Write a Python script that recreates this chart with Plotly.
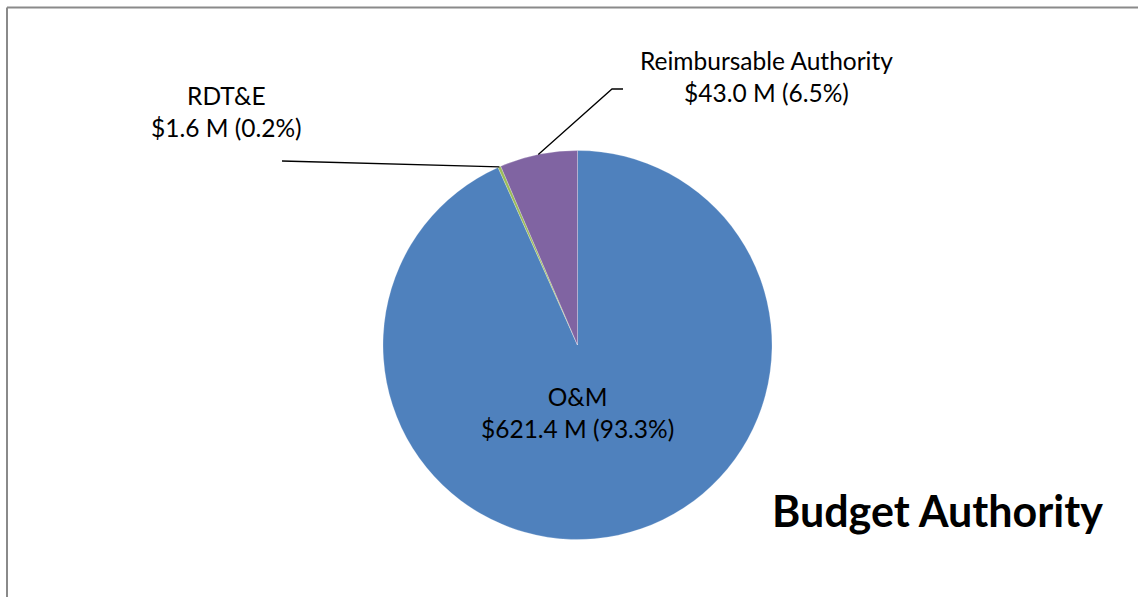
import math
import plotly.graph_objects as go

# ---- data ----
categories = ["O&M", "RDT&E", "Reimbursable Authority"]
values = [621.4, 1.6, 43.0]
colors = ["#4F81BD", "#9BBB59", "#8064A2"]
title_text = "Budget Authority"

# ---- geometry (pixels) ----
W, H = 1138, 597
CX, CY, R = 577.5, 345.0, 194.5


def px(x):
    return x / W


def py(y):
    return 1 - y / H


total = sum(values)
pcts = [v / total * 100 for v in values]
labels_txt = [f"{c}<br>${v:.1f} M ({p:.1f}%)" for c, v, p in zip(categories, values, pcts)]

# mid angles (clockwise from 12 o'clock)
mids = []
cum = 0.0
for v in values:
    frac = v / total
    mids.append((cum + frac / 2) * 2 * math.pi)
    cum += frac


def edge_point(theta, r=R):
    return CX + r * math.sin(theta), CY - r * math.cos(theta)


fig = go.Figure()
fig.add_trace(go.Pie(
    labels=categories,
    values=values,
    sort=False,
    direction="clockwise",
    rotation=0,
    textinfo="none",
    hoverinfo="label+value+percent",
    marker=dict(colors=colors, line=dict(color="rgba(255,255,255,0.45)", width=0.5)),
    domain=dict(x=[px(CX - R), px(CX + R)], y=[py(CY + R), py(CY - R)]),
    showlegend=False,
))

font_family = "Lato, 'Open Sans', sans-serif"
lab_font = dict(family=font_family, size=24.5, color="#000000")

annotations = [
    dict(x=px(CX), y=py(CY + 0.345 * R), text=labels_txt[0], showarrow=False,
         xref="paper", yref="paper", xanchor="center", yanchor="middle", font=lab_font),
    dict(x=px(226), y=py(112), text=labels_txt[1], showarrow=False,
         xref="paper", yref="paper", xanchor="center", yanchor="middle", font=lab_font),
    dict(x=px(766), y=py(76), text=labels_txt[2], showarrow=False,
         xref="paper", yref="paper", xanchor="center", yanchor="middle", font=lab_font),
    dict(x=px(937), y=py(510), text=f"<b>{title_text}</b>", showarrow=False,
         xref="paper", yref="paper", xanchor="center", yanchor="middle",
         font=dict(family=font_family, size=43, color="#000000")),
]

shapes = []
# leader line RDT&E
ex, ey = edge_point(mids[1])
shapes.append(dict(type="path", xref="paper", yref="paper",
                   path=f"M {px(ex)} {py(ey)} L {px(282)} {py(161)}",
                   line=dict(color="#000000", width=1.3)))
# leader line Reimbursable
ex, ey = edge_point(mids[2])
shapes.append(dict(type="path", xref="paper", yref="paper",
                   path=f"M {px(ex)} {py(ey)} L {px(612)} {py(89)} L {px(623)} {py(89)}",
                   line=dict(color="#000000", width=1.3)))
# chart border (left and top edges visible)
shapes.append(dict(type="line", xref="paper", yref="paper",
                   x0=px(7), y0=py(7.5), x1=px(7), y1=py(H + 5),
                   line=dict(color="#8A8A8A", width=2)))
shapes.append(dict(type="line", xref="paper", yref="paper",
                   x0=px(7), y0=py(7.5), x1=px(W + 5), y1=py(7.5),
                   line=dict(color="#8A8A8A", width=2)))

fig.update_layout(
    width=W, height=H,
    margin=dict(l=0, r=0, t=0, b=0),
    paper_bgcolor="white",
    plot_bgcolor="white",
    annotations=annotations,
    shapes=shapes,
)

fig.write_html("out.html",
               config={"displayModeBar": False},
               post_script="document.body.style.margin='0';document.body.style.overflow='hidden';")
